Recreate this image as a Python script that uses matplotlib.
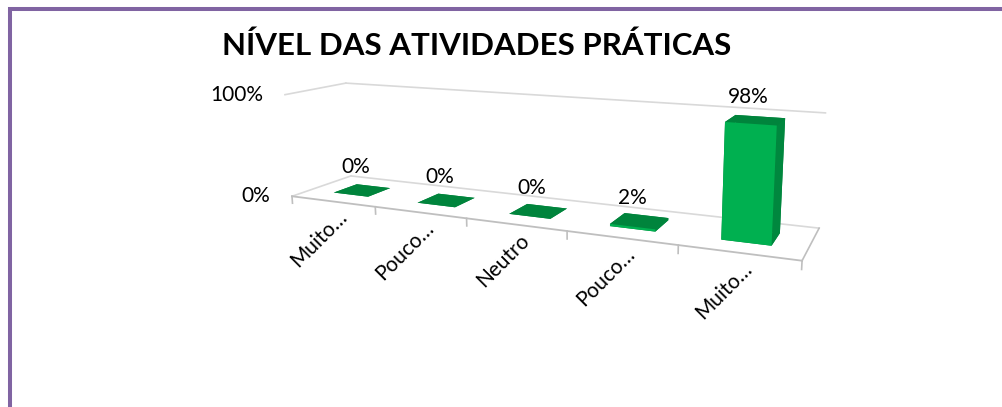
import matplotlib.pyplot as plt
from matplotlib.lines import Line2D
from matplotlib.transforms import offset_copy
from mpl_toolkits.mplot3d import proj3d

# Chart data
categories = ['Muito…', 'Pouco…', 'Neutro', 'Pouco…', 'Muito…']
values = [0, 0, 0, 2, 98]
value_labels = ['0%', '0%', '0%', '2%', '98%']
value_ticks = [0, 100]
value_tick_labels = ['0%', '100%']
title = 'NÍVEL DAS ATIVIDADES PRÁTICAS'

plt.rcParams['font.family'] = ['Lato', 'DejaVu Sans']

fig = plt.figure(figsize=(10.03, 4.07), dpi=100)

# purple frame on the left and top
fig.add_artist(Line2D([0.0095, 0.0095, 1.0], [0.0, 0.9767, 0.9767],
                      transform=fig.transFigure, color='#8064A2', lw=2.9,
                      solid_joinstyle='miter'))

fig.text(0.475, 0.887, title, ha='center', va='center',
         fontsize=22.5, fontweight='bold', color='black')

ax = fig.add_axes([0.1757, -0.3533, 0.7976, 1.9656], projection='3d',
                  computed_zorder=False)

n = len(categories)
x0, x1 = -0.5, n - 0.5
grid_c = '#D9D9D9'
edge_c = '#BFBFBF'

# floor outline and value gridlines (back wall + left wall)
for v in value_ticks:
    ax.plot([x0, x1], [1, 1], [v, v], color=grid_c, lw=1.2, zorder=1)
    ax.plot([x0, x0], [0, 1], [v, v], color=grid_c, lw=1.2, zorder=1)
ax.plot([x0, x1], [0, 0], [0, 0], color=edge_c, lw=1.3, zorder=1)
ax.plot([x1, x1], [0, 1], [0, 0], color=edge_c, lw=1.2, zorder=1)

# tick marks between categories
for i in range(n + 1):
    xb = x0 + i
    ax.plot([xb, xb], [0, 0], [0, -7], color=edge_c, lw=1.2, zorder=1)

# bars: faces ordered -z, +z, -y, +y, -x, +x
bw, bd = 0.42, 0.4
face_cols = []
for _ in values:
    face_cols += ['#00843C', '#00843C', '#00B050', '#00843C', '#00843C', '#00873E']
ax.bar3d([i - bw / 2 for i in range(n)], [0.5 - bd / 2] * n, [0] * n,
         bw, bd, values, color=face_cols, shade=False, zorder=2,
         linewidth=0)

# the camera looks at the middle of the limits, so the limits reach past
# the floor on the right and above the 100% line
ax.set_xlim(x0, x1 + 0.986)
ax.set_ylim(0, 1)
ax.set_zlim(0, 140.4)
ax.set_box_aspect((1.548, 0.24, 0.371), zoom=0.8413)
ax.view_init(elev=11.3, azim=-67.3)
ax.set_proj_type('persp', focal_length=0.2)
ax.set_axis_off()

M = ax.get_proj()


def place(x, y, z, s, dx, dy, **kw):
    px, py, _ = proj3d.proj_transform(x, y, z, M)
    tr = offset_copy(ax.transData, fig=fig, x=dx, y=dy, units='dots')
    ax.text2D(px, py, s, transform=tr, fontsize=15, color='black', **kw)


# value axis labels
for v, lab in zip(value_ticks, value_tick_labels):
    place(x0, 0, v, lab, -22, 0, ha='right', va='center')

# category labels, ending just below the front edge
for i, lab in enumerate(categories):
    place(i, 0, 0, lab, 15, -17, ha='right', va='baseline',
          rotation=45, rotation_mode='anchor')

# data labels above the bar tops
for i, (v, lab) in enumerate(zip(values, value_labels)):
    place(i, 0.5, v, lab, -7, 23, ha='center', va='center')

fig.savefig('out.png', dpi=100)
